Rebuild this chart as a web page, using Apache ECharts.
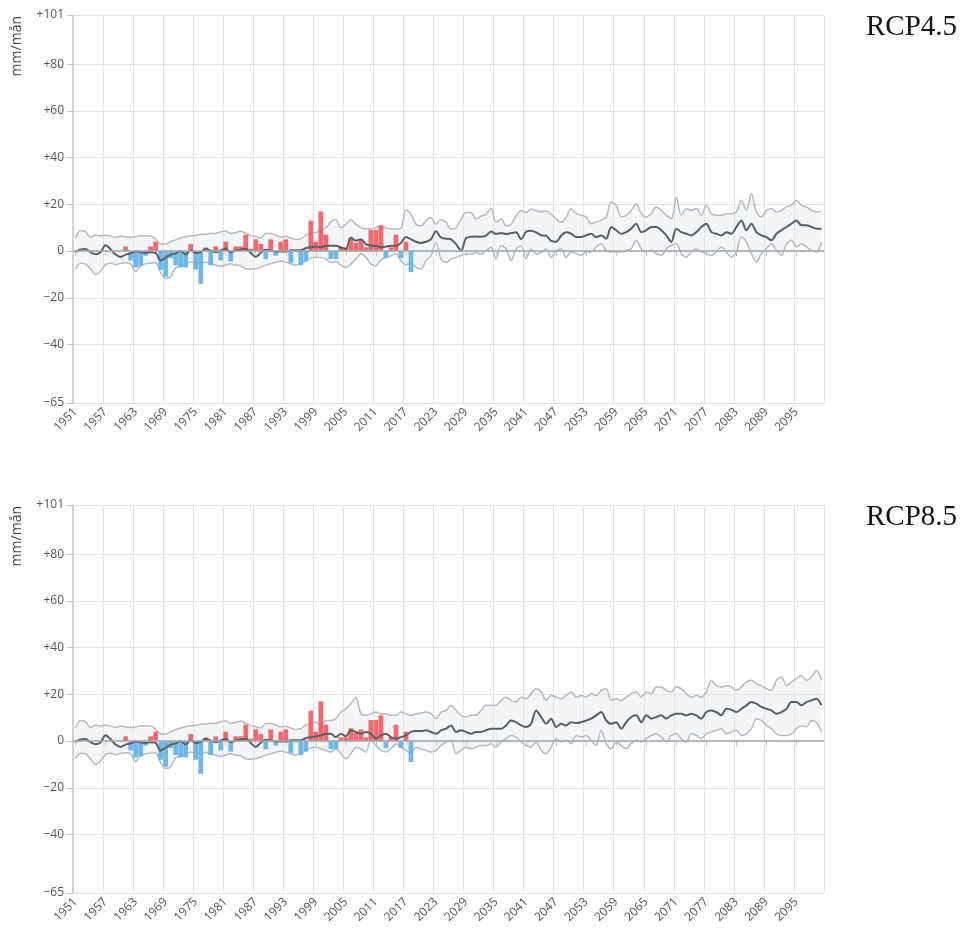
<!DOCTYPE html>
<html>
<head>
<meta charset="utf-8">
<script src="https://cdn.jsdelivr.net/npm/echarts@6/dist/echarts.min.js"></script>
<style>
html,body{margin:0;padding:0;background:#fff;}
#chart{width:967px;height:939px;}
</style>
</head>
<body>
<div id="chart"></div>
<script>
// ---------- DATA ----------
const firstYear = 1951, lastYear = 2100;
const yTicks = [-65, -40, -20, 0, 20, 40, 60, 80, 101];
const panelTitles = ['RCP4.5', 'RCP8.5'];
const yName = 'mm/mån';

// observed anomalies 1961-2018
const obsStart = 1961;
const observed = [2, -4, -7, -6.5, -2, 2, 4, -8, -11, -3,
  -6, -7, -7, 3, -8, -14, 1.5, -6, 2, -4,
  4, -4.5, 2, 2, 7, 1, 5, 3, -3.5, 5,
  -2, 4, 5, -5, -0.5, -6, -4.5, 13, 4, 17,
  7, -3.4, -3.4, 1.6, 1.6, 5.5, 3.5, 5, 1.6, 9,
  9, 11, -3, 1.6, 7, -3, 4, -9];

// model ensemble, historical period 1951-1999 (shared)
const histMedian = [-0.4, 0.7, 0.9, -0.5, -1.4, -0.5, 2.5, 0.8, -1.5, -2.5,
  -1.5, -1, -0.2, -0.5, -0.8, -0.5, -0.8, -4, -2.8, -1.5,
  -1, 0, -1.5, 0.4, -0.8, -0.4, 1, 0.2, -0.5, 0.3,
  1, -0.5, 0.3, 0.6, 1, -0.8, -2.5, -0.7, 0.6, 0.3,
  -0.2, -0.2, -0.2, 0.3, 0.3, 0.3, 1.2, 1.6, 2];
const histMin = [-7.7, -5.2, -5.5, -7.6, -10, -8.5, -5.8, -5.2, -5.8, -5.3,
  -5, -5.5, -8.8, -6.4, -5.4, -5.2, -5, -9.2, -11.7, -11,
  -7.2, -6.2, -5.5, -4.8, -5, -5.4, -4.8, -5.5, -6, -6.6,
  -6, -5.4, -6, -6.3, -7.6, -7.8, -7.6, -6.8, -6, -5.4,
  -4.8, -4.3, -4.8, -5.4, -6, -5.4, -4, -2.9, -2.6];
const histMax = [5.5, 8.8, 8.3, 5.8, 6.8, 6.5, 6.8, 6.5, 5.8, 6.5,
  6, 5.8, 6, 6.6, 6.6, 6.5, 5, 3.1, 3, 4,
  4.8, 5.6, 6.2, 6.6, 6.7, 7.2, 7.2, 7.6, 7.5, 8.3,
  8.6, 7.5, 8, 8.5, 7.6, 6.6, 6.2, 5.6, 7.5, 7.5,
  6.8, 6, 6.3, 5.6, 5, 5.3, 6.8, 7.8, 8];

// RCP4.5 2000-2100
const rcp45Median = [1.6, 2.3, 2.3, 2.3, 1.6, 0.9, 5.8, 4.4, 5.1, 3.0,
  2.3, 2.3, 1.6, 1.9, 2.3, 2.3, 3.5, 6.0, 5.0, 4.0,
  3.5, 4.0, 5.0, 8.5, 5.8, 5.3, 5.0, 3.0, 0.1, 5.6,
  6.1, 6.2, 6.1, 6.6, 8.4, 7.3, 7.7, 7.3, 7.7, 8.0,
  5.1, 8.3, 8.7, 8.0, 6.8, 6.6, 4.4, 4.0, 6.6, 8.0,
  7.4, 6.0, 6.0, 6.7, 7.4, 6.0, 6.7, 5.3, 10.3, 8.9,
  7.4, 8.1, 9.6, 11.7, 8.1, 8.9, 10.3, 10.3, 8.9, 6.7,
  3.9, 9.6, 8.1, 7.4, 6.7, 8.1, 10.3, 11.7, 8.1, 7.4,
  6.7, 8.1, 7.4, 10.3, 13.1, 8.9, 11.7, 8.1, 6.7, 6.0,
  4.6, 7.4, 8.9, 10.3, 11.7, 13.1, 11.0, 11.0, 10.3, 9.6, 9.6];
const rcp45Min = [-2.7, -3.4, -4.9, -4.6, -6.0, -7.0, -5.6, -3.4, -1.3, -2.7,
  -5.6, -6.3, -3.7, -2.7, -2.0, -1.3, -4.1, -6.0, -4.9, -7.0,
  -7.7, -4.1, -2.0, 3.7, -3.4, -4.9, -3.4, -2.7, -2.0, -1.3,
  -1.3, -0.6, -1.3, 0.1, 1.6, -3.4, 2.3, 0.9, -4.1, 0.9,
  2.3, -3.4, 0.9, -1.3, -0.6, 0.9, -2.7, 0.1, 0.9, -2.7,
  -0.4, -1.1, -1.9, -0.4, -0.4, 1.7, 3.1, 0.3, -0.4, -0.4,
  -0.4, 0.3, 1.0, 4.6, 1.0, -0.4, 0.3, -1.1, -1.9, 1.0,
  2.4, 3.1, -1.1, -2.6, -0.4, 1.0, -0.4, -1.1, -1.9, -0.4,
  1.7, -0.4, -2.6, -0.4, 6.0, 3.9, -1.1, -4.7, -1.1, 1.0,
  3.1, 0.3, -1.9, 3.1, 4.6, 1.7, 3.1, 1.7, 0.3, -0.4, 3.9];
const rcp45Max = [9.0, 10.0, 12.5, 13.5, 10.0, 11.5, 13.4, 11.5, 10.0, 9.4,
  9.4, 10.0, 10.8, 10.0, 9.4, 9.4, 9.8, 17.7, 15.8, 11.5,
  10.8, 13.0, 14.4, 11.5, 13.4, 12.3, 9.4, 10.0, 13.7, 16.5,
  16.5, 13.7, 15.0, 15.8, 18.3, 12.3, 13.7, 10.8, 11.5, 15.0,
  17.3, 16.5, 18.0, 17.3, 16.8, 17.3, 15.8, 13.7, 12.3, 14.4,
  18.1, 16.0, 15.3, 14.6, 11.7, 12.4, 13.1, 14.6, 21.0, 19.6,
  14.6, 15.3, 17.4, 20.3, 16.0, 14.6, 16.0, 18.9, 17.4, 15.3,
  13.9, 23.1, 15.3, 18.1, 17.4, 18.1, 15.3, 19.6, 16.0, 15.3,
  15.3, 16.0, 16.0, 16.7, 21.7, 17.4, 24.6, 16.7, 14.6, 17.4,
  18.1, 16.7, 17.4, 18.9, 19.6, 21.7, 19.6, 18.9, 17.4, 16.7, 17.1];

// RCP8.5 2000-2100
const rcp85Median = [2.4, 3.1, 3.1, 1.7, 3.1, 2.0, 4.6, 3.9, 3.1, 3.9,
  3.1, 1.0, 2.4, 3.1, 1.7, 1.0, 1.7, 2.4, 3.9, 4.3,
  4.3, 4.6, 3.9, 3.1, 4.6, 5.3, 6.7, 3.9, 4.6, 3.9,
  3.1, 3.9, 3.9, 4.6, 5.3, 5.3, 5.3, 6.7, 8.8, 8.1,
  6.7, 6.0, 7.4, 13.1, 10.3, 7.4, 9.6, 6.0, 7.4, 6.7,
  8.1, 7.7, 8.1, 8.8, 9.6, 11.0, 12.4, 8.8, 7.4, 8.1,
  5.3, 8.1, 10.3, 11.0, 8.1, 11.0, 9.6, 10.3, 11.0, 9.6,
  11.0, 11.7, 11.7, 11.0, 11.7, 11.0, 9.6, 12.4, 13.1, 12.4,
  11.0, 13.8, 13.4, 12.4, 13.8, 15.3, 16.7, 16.0, 14.6, 13.8,
  13.1, 11.7, 12.4, 13.8, 16.7, 16.7, 15.3, 16.7, 17.4, 18.1, 15.3];
const rcp85Min = [-3.3, -4.0, -4.7, -3.3, -5.4, -7.6, -5.4, -2.6, -3.3, -4.7,
  0.3, -1.9, -4.0, -4.7, -3.3, -1.1, -2.6, -4.0, -5.4, -2.6,
  -3.3, -4.0, -4.7, -4.0, -1.9, -0.4, 0.3, -5.4, -4.0, -2.6,
  -3.3, -2.6, -1.9, -1.9, -1.1, -2.6, -0.4, 1.0, 2.4, 1.7,
  -0.4, -1.9, -2.6, -0.4, -4.0, -5.4, -2.6, 1.0, -0.4, 0.3,
  -1.1, 2.4, 1.7, 2.4, 0.3, -1.9, 4.6, -1.1, -3.3, -0.4,
  -1.9, -3.3, -1.1, 0.3, -0.4, 1.0, 2.4, 3.1, 1.7, -0.4,
  2.4, 3.1, 1.0, -0.4, 3.1, 2.4, 1.0, 3.1, 3.9, 4.6,
  5.3, 3.1, 3.9, 4.6, 2.4, 3.1, 5.3, 9.6, 8.8, 6.7,
  5.3, 3.1, 2.4, 2.4, 3.1, 5.3, 6.7, 6.0, 8.8, 8.0, 4.0];
const rcp85Max = [6.7, 8.8, 8.8, 9.6, 12.4, 13.8, 16.0, 18.8, 11.7, 11.0,
  11.7, 12.4, 11.7, 11.7, 11.0, 11.0, 12.4, 11.7, 11.0, 11.7,
  12.0, 12.4, 11.7, 9.6, 12.4, 13.1, 15.3, 13.1, 11.0, 10.3,
  11.0, 11.0, 13.1, 15.3, 15.3, 15.3, 17.4, 18.8, 17.4, 16.7,
  18.8, 18.1, 20.3, 22.4, 21.0, 17.4, 19.5, 18.8, 18.1, 19.5,
  21.0, 18.8, 19.5, 18.8, 20.3, 19.5, 21.7, 22.4, 17.4, 18.1,
  17.4, 18.8, 20.3, 21.0, 18.8, 21.0, 20.3, 23.1, 23.1, 21.7,
  21.0, 23.1, 22.4, 20.3, 18.8, 19.5, 18.8, 21.0, 26.0, 23.8,
  23.1, 23.8, 23.1, 21.7, 23.1, 25.2, 26.0, 24.5, 23.8, 22.4,
  21.7, 26.0, 27.4, 23.8, 25.2, 26.7, 28.1, 26.0, 27.4, 30.2, 26.0];

// ---------- BUILD ----------
const years = [];
for (let y = firstYear; y <= lastYear; y++) years.push(String(y));

const barData = years.map(y => {
  const i = Number(y) - obsStart;
  return (i >= 0 && i < observed.length) ? observed[i] : null;
});

const panels = [
  { median: histMedian.concat(rcp45Median), min: histMin.concat(rcp45Min), max: histMax.concat(rcp45Max), top: 15 },
  { median: histMedian.concat(rcp85Median), min: histMin.concat(rcp85Min), max: histMax.concat(rcp85Max), top: 505 }
];

const gridH = 388;
const fontFam = '"Open Sans", "Noto Sans", sans-serif';
const labelColor = '#555555';
const fmtY = v => v > 0 ? '+' + v : (v < 0 ? '\u2212' + Math.abs(v) : '0');

const grid = [], xAxis = [], yAxis = [], series = [], graphic = [];

panels.forEach((p, k) => {
  grid.push({ left: 73, width: 751, top: p.top, height: gridH });
  xAxis.push({
    type: 'category', gridIndex: k, data: years, boundaryGap: true,
    axisLine: { show: true, lineStyle: { color: '#c3c6c9', width: 1.5 } },
    axisTick: { show: true, alignWithLabel: true, interval: 5, length: 5, lineStyle: { color: '#c3c6c9' } },
    axisLabel: { interval: 5, rotate: 45, margin: 7, color: labelColor, fontSize: 12, fontFamily: 'Open Sans' },
    splitLine: { show: true, interval: 5, lineStyle: { color: '#e3e3e3', width: 1 } }
  });
  yAxis.push({
    type: 'value', gridIndex: k, min: -65, max: 101,
    axisLine: { show: true, lineStyle: { color: '#c3c6c9', width: 1.5 } },
    axisTick: { show: true, length: 6, customValues: yTicks, lineStyle: { color: '#c3c6c9' } },
    axisLabel: { customValues: yTicks, formatter: fmtY, margin: 9, color: labelColor, fontSize: 12, fontFamily: 'Open Sans' },
    splitLine: { show: true, lineStyle: { color: '#e3e3e3', width: 1 } }
  });

  const range = p.max.map((v, i) => +(v - p.min[i]).toFixed(2));
  const bandLine = { color: '#b6babe', width: 1.5 };
  series.push({
    type: 'line', xAxisIndex: k, yAxisIndex: k, data: p.min, stack: 'band' + k, stackStrategy: 'all',
    smooth: 0.3, symbol: 'none', lineStyle: bandLine, silent: true, z: 2
  });
  series.push({
    type: 'line', xAxisIndex: k, yAxisIndex: k, data: range, stack: 'band' + k, stackStrategy: 'all',
    smooth: 0.3, symbol: 'none', lineStyle: bandLine, silent: true, z: 2,
    areaStyle: { color: 'rgba(222,226,230,0.5)' }
  });
  series.push({
    type: 'bar', xAxisIndex: k, yAxisIndex: k, data: barData, barCategoryGap: '6%', z: 3,
    itemStyle: { color: prm => prm.value >= 0 ? '#f6565f' : '#5eb1e8', opacity: 0.9 }
  });
  series.push({
    type: 'line', xAxisIndex: k, yAxisIndex: k, data: p.median, smooth: 0.3, symbol: 'none', z: 4,
    lineStyle: { color: '#5b5f64', width: 2 }, silent: true,
    markLine: { silent: true, symbol: 'none', label: { show: false },
      lineStyle: { color: '#a9adb1', width: 1.5, type: 'solid' }, data: [{ yAxis: 0 }] }
  });

  graphic.push({
    type: 'text', left: 866, top: p.top - 2,
    style: { text: panelTitles[k], font: '29px "Liberation Serif", serif', fill: '#151515' }
  });
  graphic.push({
    type: 'text', x: 17, y: p.top + 1, rotation: Math.PI / 2,
    style: { text: yName, font: '14px "Open Sans", sans-serif', fill: '#444', textAlign: 'right', textVerticalAlign: 'middle' }
  });
});

const chart = echarts.init(document.getElementById('chart'), null, { renderer: 'canvas' });
chart.setOption({
  animation: false,
  backgroundColor: '#ffffff',
  grid, xAxis, yAxis, series, graphic
});
</script>
</body>
</html>
